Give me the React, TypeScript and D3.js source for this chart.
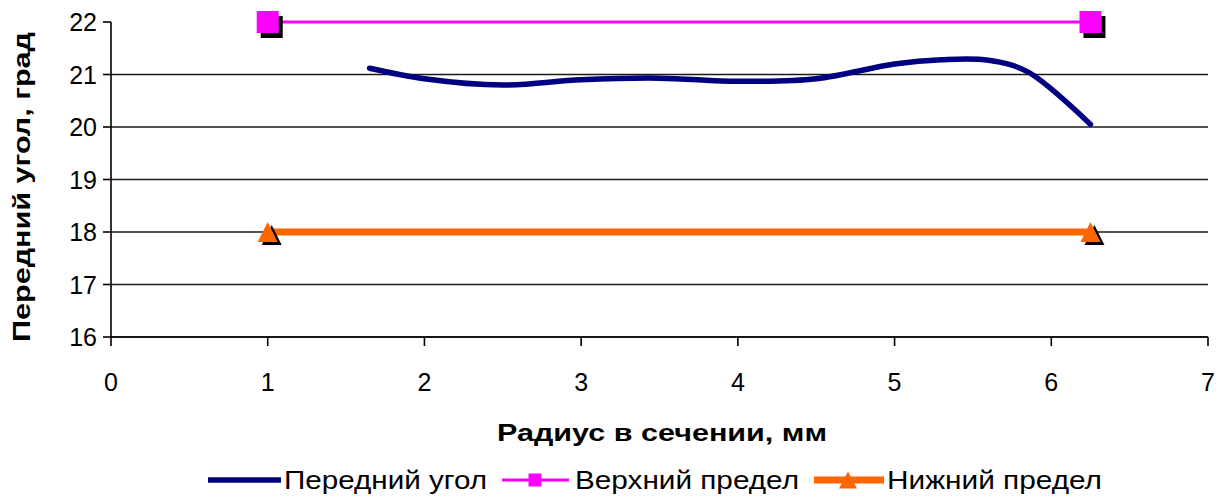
import React from "react";
import * as d3 from "d3";

// Measured rake angle along the cutting-edge radius
const radius = [1.65, 2.0, 2.5, 3.0, 3.5, 4.0, 4.5, 5.0, 5.3, 5.6, 5.85, 6.25];
const rakeAngle = [21.12, 20.92, 20.8, 20.9, 20.93, 20.87, 20.92, 21.2, 21.28, 21.27, 21.05, 20.05];

// Tolerance limits
const limitX = [1, 6.25];
const upperLimit = [22, 22];
const lowerLimit = [18, 18];

const xTicks = [0, 1, 2, 3, 4, 5, 6, 7];
const yTicks = [16, 17, 18, 19, 20, 21, 22];

const seriesNames = ["Передний угол", "Верхний предел", "Нижний предел"];
const xTitle = "Радиус в сечении, мм";
const yTitle = "Передний угол, град";

const W = 1219;
const H = 497;
const FONT = "'Liberation Sans', Arial, sans-serif";

export default function App() {
  const x = d3.scaleLinear().domain([0, 7]).range([111, 1208]);
  const y = d3.scaleLinear().domain([16, 22]).range([337, 22]);

  const curve = d3
    .line<number>()
    .x((_, i) => x(radius[i]))
    .y((d) => y(d))
    .curve(d3.curveCatmullRom.alpha(0.5))(rakeAngle) as string;

  const straight = (vals: number[]) =>
    d3
      .line<number>()
      .x((_, i) => x(limitX[i]))
      .y((d) => y(d))(vals) as string;

  const square = (cx: number, cy: number, s: number, fill: string, key: string) => (
    <rect key={key} x={cx - s / 2} y={cy - s / 2} width={s} height={s} fill={fill} />
  );
  const tri = (cx: number, cy: number, w: number, h: number, fill: string, key: string) => (
    <path
      key={key}
      d={`M${cx},${cy - h / 2}L${cx + w / 2},${cy + h / 2}L${cx - w / 2},${cy + h / 2}Z`}
      fill={fill}
    />
  );

  const legendY = 480;

  return (
    <svg
      width={W}
      height={H}
      style={{ position: "absolute", left: 0, top: 0, background: "#fff" }}
      fontFamily={FONT}
    >
      {/* horizontal gridlines (none at the top value) */}
      {yTicks
        .filter((t) => t !== 22)
        .map((t) => (
          <line key={"g" + t} x1={x(0)} x2={x(7)} y1={y(t)} y2={y(t)} stroke="#1a1a1a" strokeWidth={1.4} />
        ))}

      {/* axes */}
      <line x1={x(0)} x2={x(0)} y1={y(22)} y2={y(16)} stroke="#000" strokeWidth={1.6} />
      <line x1={x(0)} x2={x(7)} y1={y(16)} y2={y(16)} stroke="#000" strokeWidth={1.6} />
      {yTicks.map((t) => (
        <g key={"yt" + t}>
          <line x1={x(0) - 8} x2={x(0)} y1={y(t)} y2={y(t)} stroke="#000" strokeWidth={1.6} />
          <text x={97} y={y(t)} dy="0.36em" textAnchor="end" fontSize={25} fill="#000">
            {t}
          </text>
        </g>
      ))}
      {xTicks.map((t) => (
        <g key={"xt" + t}>
          <line x1={x(t)} x2={x(t)} y1={y(16)} y2={y(16) + 9} stroke="#000" strokeWidth={1.6} />
          <text x={x(t)} y={391} textAnchor="middle" fontSize={25} fill="#000">
            {t}
          </text>
        </g>
      ))}

      {/* axis titles */}
      <text
        x={662}
        y={441}
        textAnchor="middle"
        fontSize={24}
        fontWeight="bold"
        textLength={330}
        lengthAdjust="spacingAndGlyphs"
      >
        {xTitle}
      </text>
      <text
        transform={`translate(30,187) rotate(-90)`}
        textAnchor="middle"
        fontSize={24}
        fontWeight="bold"
        textLength={310}
        lengthAdjust="spacingAndGlyphs"
      >
        {yTitle}
      </text>

      {/* lower limit */}
      <path d={straight(lowerLimit)} fill="none" stroke="#FF6600" strokeWidth={7} />
      {limitX.map((v, i) => tri(x(v) + 4, y(lowerLimit[i]) + 3, 20, 20, "#000", "ls" + i))}
      {limitX.map((v, i) => tri(x(v), y(lowerLimit[i]), 20, 20, "#FF6600", "lm" + i))}

      {/* upper limit */}
      <path d={straight(upperLimit)} fill="none" stroke="#FF00FF" strokeWidth={3} />
      {limitX.map((v, i) => square(x(v) + 4, y(upperLimit[i]) + 5, 22, "#000", "us" + i))}
      {limitX.map((v, i) => square(x(v), y(upperLimit[i]), 22, "#FF00FF", "um" + i))}

      {/* measured rake angle */}
      <path d={curve} fill="none" stroke="#000080" strokeWidth={5.5} strokeLinecap="round" />

      {/* legend */}
      <line x1={208} x2={281} y1={legendY} y2={legendY} stroke="#000080" strokeWidth={5.5} />
      <text x={284} y={legendY} dy="0.36em" fontSize={25} textLength={203} lengthAdjust="spacingAndGlyphs">
        {seriesNames[0]}
      </text>

      <line x1={502} x2={569} y1={legendY} y2={legendY} stroke="#FF00FF" strokeWidth={3} />
      {square(535, legendY, 13, "#FF00FF", "lgs")}
      <text x={575} y={legendY} dy="0.36em" fontSize={25} textLength={224} lengthAdjust="spacingAndGlyphs">
        {seriesNames[1]}
      </text>

      <line x1={814} x2={884} y1={legendY} y2={legendY} stroke="#FF6600" strokeWidth={7} />
      {tri(848, legendY, 18, 17, "#FF6600", "lgt")}
      <text x={887} y={legendY} dy="0.36em" fontSize={25} textLength={215} lengthAdjust="spacingAndGlyphs">
        {seriesNames[2]}
      </text>
    </svg>
  );
}
